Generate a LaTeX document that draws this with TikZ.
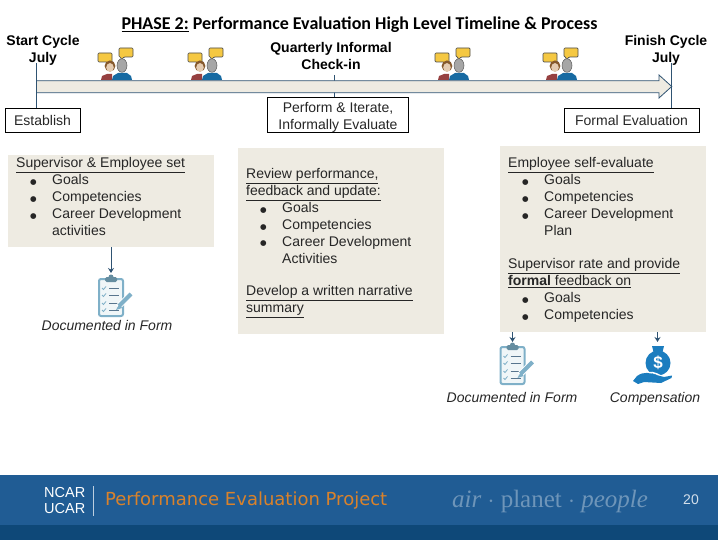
\documentclass[tikz,border=0pt]{standalone}
\usepackage{fontspec}
\setmainfont{Liberation Sans}
\newfontfamily\titlefont{Carlito}
\newfontfamily\footfont{DejaVu Sans}
\newfontfamily\mottofont{Liberation Serif}
\usetikzlibrary{arrows.meta,positioning}
\definecolor{panelfill}{HTML}{EEEBE2}
\definecolor{lineblue}{HTML}{2F5372}
\definecolor{footblue}{HTML}{205C94}
\definecolor{footdark}{HTML}{0E4878}
\definecolor{footorange}{HTML}{D9822B}
\definecolor{clipblue}{HTML}{7FB0C8}
\definecolor{moneyblue}{HTML}{1B7DBF}
\definecolor{bubbleyellow}{HTML}{F5C842}
\newcommand{\bul}[1]{\hspace*{14pt}\makebox[22pt][l]{\footfont\fontsize{7.5}{9}\selectfont\raisebox{0.5pt}{●}}#1}
\newcommand{\cont}[1]{\hspace*{36pt}#1}
\tikzset{
  x=1pt, y=-1pt,
  body/.style={font=\fontsize{14}{16.9}\selectfont, text=black!85},
  labelbox/.style={draw=black, fill=white, body, align=center, inner sep=0pt, line width=0.7pt},
  milestone/.style={font=\bfseries\fontsize{14}{17}\selectfont, align=center, inner sep=0pt},
  panel/.style={fill=panelfill, draw=none, inner sep=0pt, minimum width=206pt},
  paneltext/.style={body, align=left, anchor=north west, inner sep=0pt},
  tick/.style={lineblue, line width=0.8pt},
  formarrow/.style={-{Stealth[length=5pt,width=6pt]}, lineblue, line width=0.8pt},
  caption/.style={font=\itshape\fontsize{14}{16}\selectfont, text=black!85, inner sep=0pt},
  checkin/.pic={
    % bubbles
    \draw[fill=bubbleyellow, draw=black!70, line width=0.7pt, rounded corners=1pt]
      (-3,-27) -- (11,-27) -- (11,-18) -- (10,-18) -- (9,-15) -- (6,-18) -- (-3,-18) -- cycle;
    \draw[fill=bubbleyellow, draw=black!70, line width=0.7pt, rounded corners=1pt]
      (18,-32) -- (32,-32) -- (32,-23) -- (23,-23) -- (20,-20) -- (20,-23) -- (18,-23) -- cycle;
    % bodies
    \fill[red!45!black!75] (0,0) -- (1,-4) -- (6,-6) -- (11,-6) -- (11,0) -- cycle;
    \fill[moneyblue!85!black] (11,0) -- (12,-4) -- (17,-7) -- (26,-7) -- (30,-4) -- (31,0) -- cycle;
    % heads
    \fill[black!35, draw=black!65, line width=0.5pt] (21,-14.5) ellipse (5 and 6.8);
    \fill[brown!70!black] (9,-14) ellipse (5.4 and 5.6);
    \fill[brown!40!white] (9,-12.5) ellipse (3.8 and 4.4);
  },
  clipboard/.pic={
    \draw[clipblue, fill=clipblue!12, line width=2pt, rounded corners=2pt] (1,4) rectangle (25,41);
    \fill[clipblue!80!black, rounded corners=1.5pt] (7,2) rectangle (19,7);
    \fill[clipblue!80!black] (13,2) circle (2.5);
    \foreach \y in {13,20,28,35} {
      \draw[clipblue, line width=0.8pt] (4,\y) -- (5.5,\y+1.5) -- (8,\y-1.5);
      \draw[lineblue!80, line width=1pt] (11,\y) -- (21,\y);
    }
    \draw[white, line width=6pt] (33,19) -- (20,32);
    \draw[clipblue, line width=4pt] (33,19) -- (21,31);
    \fill[clipblue] (21.5,28.5) -- (24,33) -- (18,35) -- cycle;
  },
  moneybag/.pic={
    \fill[moneyblue] (0,0) circle (12.5);
    \fill[moneyblue] (-6,-17) -- (6,-17) -- (4,-9) -- (-4,-9) -- cycle;
    \node[text=white, font=\bfseries\fontsize{17}{17}\selectfont, inner sep=0pt] (dollar) at (0,-0.5) {\$};
    \draw[white, line width=1.5pt] (-16,12) .. controls (-8,7) and (-3,10) .. (3,13) -- (15,10);
    \fill[moneyblue] (-25,18) -- (-21,13) .. controls (-14,8) and (-8,10) .. (-2,12) -- (6,14) -- (14,12.5)
      -- (13.5,15) -- (3,20) -- (-14,19) -- (-20,21) -- cycle;
  },
}
\begin{document}
\begin{tikzpicture}
  \useasboundingbox (0,0) rectangle (720,540);

  % Title
  \node[font=\titlefont\bfseries\fontsize{18}{20}\selectfont, inner sep=0pt] (title) at (359.5,25)
    {\underline{PHASE 2:} Performance Evaluation High Level Timeline \& Process};

  % Milestones
  \node[milestone] (start) at (43,50) {Start Cycle\\July};
  \node[milestone] (finish) at (666,50) {Finish Cycle\\July};
  \node[milestone] (quarterly) at (331,56) {Quarterly Informal\\Check-in};

  % Phase boxes
  \node[labelbox, minimum width=75pt, minimum height=24pt] (establish) at (42.5,120) {\rule{0pt}{12pt}Establish};
  \node[labelbox, minimum width=141pt, minimum height=34pt] (perform) at (338,115) {\rule{0pt}{15pt}Perform \& Iterate,\\Informally Evaluate};
  \node[labelbox, minimum width=135pt, minimum height=24pt] (formal) at (631.5,120) {\rule{0pt}{12pt}Formal Evaluation};

  \coordinate (startfoot) at (36,63);
  \coordinate (finishfoot) at (671.5,63);
  \coordinate (quarterfoot) at (334.5,75);
  \draw[tick] (quarterfoot) -- (quarterfoot |- perform.north);

  % Timeline arrow
  \draw[fill=panelfill, draw=lineblue, line width=0.8pt]
    (36,80.7) -- (659,80.7) -- (659,75) -- (671.7,86.5) -- (659,98) -- (659,92.7) -- (36,92.7);

  \draw[tick] (startfoot) -- (startfoot |- establish.north);
  \draw[tick] (finishfoot) -- (finishfoot |- formal.north);

  % Check-ins
  \foreach \px in {101,191,438,546} {
    \pic at (\px,80) {checkin};
  }

  % Panels
  \node[panel, minimum height=92pt] (goalspanel) at (111,201) {};
  \node[panel, minimum height=186pt] (reviewpanel) at (341,241) {};
  \node[panel, minimum height=186pt] (ratepanel) at (603,239) {};

  \node[paneltext] (setgoals) at (16,157.5) {\underline{Supervisor \& Employee set}\\
    \bul{Goals}\\ \bul{Competencies}\\ \bul{Career Development}\\ \cont{activities}};
  \node[paneltext] (review) at (246,168.5) {\underline{Review performance,}\\ \underline{feedback and update:}\\
    \bul{Goals}\\ \bul{Competencies}\\ \bul{Career Development}\\ \cont{Activities}};
  \node[paneltext] (narrative) at (246,285.5) {\underline{Develop a written narrative}\\ \underline{summary}};
  \node[paneltext] (selfeval) at (508,157.5) {\underline{Employee self-evaluate}\\
    \bul{Goals}\\ \bul{Competencies}\\ \bul{Career Development}\\ \cont{Plan}};
  \node[paneltext] (rating) at (508,258.5) {\underline{Supervisor rate and provide}\\
    \underline{\textbf{formal} feedback on}\\ \bul{Goals}\\ \bul{Competencies}};

  % Forms and compensation
  \coordinate (formone) at (111,273);
  \coordinate (formtwo) at (512.5,342);
  \coordinate (payout) at (657.5,342);
  \draw[formarrow] (formone |- goalspanel.south) -- (formone);
  \draw[formarrow] (formtwo |- ratepanel.south) -- (formtwo);
  \draw[formarrow] (payout |- ratepanel.south) -- (payout);
  \pic at (98,275) {clipboard};
  \pic at (499.5,343) {clipboard};
  \pic at (658,363) {moneybag};
  \node[caption] (docone) at (107,325) {Documented in Form};
  \node[caption] (doctwo) at (512,397) {Documented in Form};
  \node[caption] (compensation) at (655,398.5) {Compensation};

  % Footer
  \fill[footblue] (0,475) rectangle (718,525);
  \fill[footdark] (0,525) rectangle (718,540);
  \node[text=white, align=left, inner sep=0pt, anchor=west, font=\fontsize{14.5}{16}\selectfont] (ncar) at (44,501) {NCAR\\UCAR};
  \draw[white!70!footblue, line width=0.5pt] (93.5,486) -- (93.5,516);
  \node[text=footorange, inner sep=0pt, anchor=west, font=\footfont\fontsize{18}{20}\selectfont] (project) at (105,500.5) {Performance Evaluation Project};
  \node[text=white!35!footblue, inner sep=0pt, font=\mottofont\fontsize{25}{27}\selectfont] (motto) at (550,501)
    {\textit{air} $\cdot$ planet $\cdot$ \textit{people}};
  \node[text=white!80!footblue, inner sep=0pt, font=\fontsize{14}{15}\selectfont] (pagenum) at (691,500) {20};
\end{tikzpicture}
\end{document}
